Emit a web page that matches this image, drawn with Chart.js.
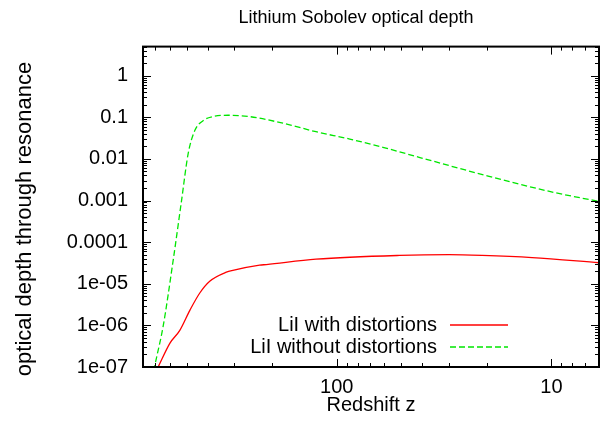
<!DOCTYPE html>
<html>
<head>
<meta charset="utf-8">
<script src="https://cdn.jsdelivr.net/npm/chart.js@4.4.0/dist/chart.umd.min.js"></script>
<style>
  html, body { margin: 0; padding: 0; background: #fff; }
</style>
</head>
<body>
<canvas id="sobolev" width="605" height="428"></canvas>
<script>
// values (redshift z, optical depth)
const zWith = [730, 680, 600, 539, 484, 435, 391, 327, 305, 229, 213, 125, 51, 30, 21, 12.3, 6];
const tauWith = [4.9e-8, 1e-7, 3.7e-7, 7.6e-7, 2.3e-6, 6e-6, 1.15e-5, 1.9e-5, 2.1e-5, 2.8e-5, 2.9e-5, 3.9e-5, 4.8e-5, 5.0e-5, 4.8e-5, 4.25e-5, 3.2e-5];

const zWithout = [725, 704, 645, 579, 529, 493, 459, 420, 377, 321, 255, 178, 125, 87, 61, 41, 20.2, 9.9, 6];
const tauWithout = [4.9e-8, 1.1e-7, 9.3e-7, 3.6e-5, 1.0e-3, 0.0132, 0.048, 0.083, 0.104, 0.112, 0.104, 0.072, 0.045, 0.030, 0.019, 0.0108, 0.004, 0.0016, 0.00095];

const xTickValues = [100, 10];
const xTickLabels = ['100', '10'];
const yTickValues = [1, 0.1, 0.01, 0.001, 0.0001, 1e-5, 1e-6, 1e-7];
const yTickLabels = ['1', '0.1', '0.01', '0.001', '0.0001', '1e-05', '1e-06', '1e-07'];

const FONT = '"Liberation Sans", Arial, Helvetica, sans-serif';
const FONT_SIZE = 20;

function toPoints(xs, ys) {
    return xs.map((x, i) => ({ x: x, y: ys[i] }));
}

// 1..9 x 10^n inside [min, max]
function logTicks(min, max) {
    const out = [];
    for (let e = Math.floor(Math.log10(min)); e <= Math.ceil(Math.log10(max)); e++) {
        for (let m = 1; m <= 9; m++) {
            const v = m * Math.pow(10, e);
            if (v >= min * 0.999 && v <= max * 1.001) out.push({ v: v, major: m === 1 });
        }
    }
    return out;
}

// gnuplot style frame: border on all sides, tics pointing inwards
const gnuplotFrame = {
    id: "gnuplotFrame",
    afterDatasetsDraw(chart) {
        const { ctx, chartArea: a, scales } = chart;
        ctx.save();
        ctx.strokeStyle = "#000";
        ctx.lineWidth = 1;
        ctx.beginPath();
        logTicks(scales.x.min, scales.x.max).forEach(t => {
            const px = Math.round(scales.x.getPixelForValue(t.v)) + 0.5;
            const len = t.major ? 8 : 4;
            ctx.moveTo(px, a.bottom); ctx.lineTo(px, a.bottom - len);
            ctx.moveTo(px, a.top); ctx.lineTo(px, a.top + len);
        });
        logTicks(scales.y.min, scales.y.max).forEach(t => {
            const py = Math.round(scales.y.getPixelForValue(t.v)) + 0.5;
            const len = t.major ? 8 : 4;
            ctx.moveTo(a.left, py); ctx.lineTo(a.left + len, py);
            ctx.moveTo(a.right, py); ctx.lineTo(a.right - len, py);
        });
        ctx.stroke();
        ctx.lineWidth = 2;
        ctx.strokeRect(a.left, a.top, a.right - a.left, a.bottom - a.top);
        ctx.restore();
    }
};

// key sits inside the plot, text right aligned, sample to the right of it
const insideLegend = {
    id: "insideLegend",
    afterDraw(chart) {
        const { ctx, chartArea: a } = chart;
        ctx.save();
        ctx.font = FONT_SIZE + "px " + FONT;
        ctx.textAlign = "right";
        ctx.textBaseline = "middle";
        chart.data.datasets.forEach((ds, i) => {
            const y = a.bottom - 42 + i * 22;
            ctx.fillStyle = "#000";
            ctx.fillText(ds.label, a.right - 162, y);
            ctx.strokeStyle = ds.borderColor;
            ctx.lineWidth = ds.borderWidth;
            ctx.setLineDash(ds.borderDash || []);
            ctx.beginPath();
            ctx.moveTo(a.right - 149, y);
            ctx.lineTo(a.right - 91, y);
            ctx.stroke();
        });
        ctx.restore();
    }
};

const ctx = document.getElementById("sobolev").getContext("2d");

new Chart(ctx, {
    type: "line",
    data: {
        datasets: [
            {
                label: "LiI with distortions",
                data: toPoints(zWith, tauWith),
                borderColor: "#ff0000",
                borderWidth: 1.3,
                pointRadius: 0,
                cubicInterpolationMode: "monotone",
                fill: false
            },
            {
                label: "LiI without distortions",
                data: toPoints(zWithout, tauWithout),
                borderColor: "#00e600",
                borderWidth: 1.3,
                borderDash: [6, 3],
                pointRadius: 0,
                cubicInterpolationMode: "monotone",
                fill: false
            }
        ]
    },
    options: {
        responsive: false,
        animation: false,
        devicePixelRatio: 1,
        layout: { padding: { top: 0, right: 6, bottom: 0, left: 0 } },
        plugins: {
            legend: { display: false },
            tooltip: { enabled: false },
            title: {
                display: true,
                fullSize: false,
                // trailing spaces nudge the centred title a little to the left, as in gnuplot
                text: "Lithium Sobolev optical depth      ",
                color: "#000",
                font: { family: FONT, size: 18, weight: "normal" },
                padding: { top: 7, bottom: 18 }
            }
        },
        scales: {
            x: {
                type: "logarithmic",
                reverse: true,
                min: 6,
                max: 800,
                grid: { display: false, drawTicks: false },
                border: { display: false },
                afterBuildTicks: scale => { scale.ticks = xTickValues.map(v => ({ value: v })); },
                afterFit: scale => { scale.height = 61; },
                ticks: {
                    autoSkip: false,
                    maxRotation: 0,
                    padding: 8,
                    color: "#000",
                    font: { family: FONT, size: FONT_SIZE },
                    callback: (value) => xTickLabels[xTickValues.indexOf(value)] || ""
                },
                title: {
                    display: true,
                    text: "Redshift z",
                    color: "#000",
                    font: { family: FONT, size: FONT_SIZE },
                    padding: { top: 0, bottom: 11 }
                }
            },
            y: {
                type: "logarithmic",
                min: 1e-7,
                max: 5,
                grid: { display: false, drawTicks: false },
                border: { display: false },
                afterBuildTicks: scale => { scale.ticks = yTickValues.map(v => ({ value: v })); },
                afterFit: scale => { scale.width = 143; },
                ticks: {
                    autoSkip: false,
                    padding: 15,
                    color: "#000",
                    font: { family: FONT, size: FONT_SIZE },
                    callback: (value) => {
                        const i = yTickValues.findIndex(v => Math.abs(v - value) / v < 1e-6);
                        return i >= 0 ? yTickLabels[i] : "";
                    }
                },
                title: {
                    display: true,
                    text: "optical depth through resonance    ",
                    color: "#000",
                    font: { family: FONT, size: 22 },
                    padding: { top: 12, bottom: 0 }
                }
            }
        }
    },
    plugins: [gnuplotFrame, insideLegend]
});
</script>
</body>
</html>
